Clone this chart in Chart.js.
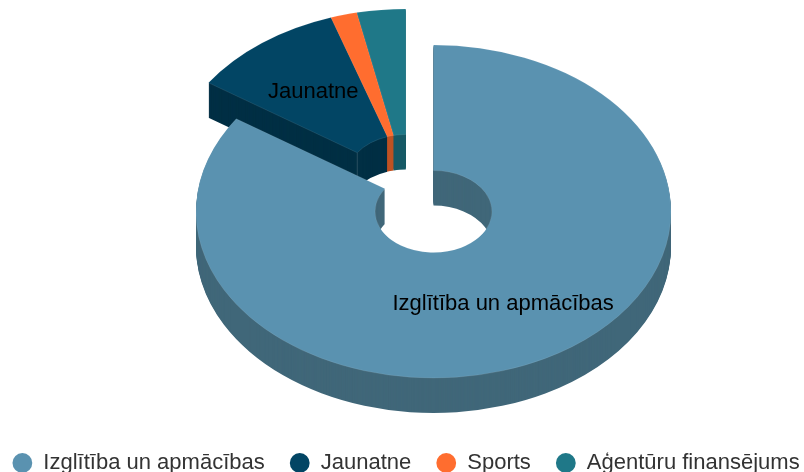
<!DOCTYPE html>
<html>
<head>
<meta charset="utf-8">
<script src="https://cdn.jsdelivr.net/npm/chart.js@4"></script>
<style>
html,body{margin:0;padding:0;background:#fff;overflow:hidden}
#wrap{width:804px;height:472px;overflow:hidden;position:relative}
#c{position:absolute;left:-14px;top:0;display:block}
</style>
</head>
<body>
<div id="wrap"><canvas id="c" width="840" height="484"></canvas></div>
<script>
const categories = ["Izglītība un apmācības", "Jaunatne", "Sports", "Aģentūru finansējums"];
const values = [84.4, 10.5, 1.8, 3.3];
const topColors = ["#5A92B0", "#024564", "#FF6D2F", "#1F7888"];
const sideColors = ["#406779", "#012F44", "#BF5223", "#175A66"];
const labelled = [true, true, false, false];

// Pseudo-3D projection of the doughnut (canvas sits 14px left of the window)
const view = { rx: 237.5, ry: 166.5, depth: 35 };
const centres = [
  { x: 447.5, y: 211.5 },            // main slice
  { x: 419.8, y: 175.5 }             // the three exploded slices, pulled out together
];
const centreOf = i => i === 0 ? centres[0] : centres[1];
const labelNudge = [{ x: 0, y: 1 }, { x: -3, y: -1 }];

function project(ctx, el, c, dy) {
  const k = el.outerRadius;
  ctx.translate(c.x, c.y + dy);
  ctx.scale(view.rx / k, view.ry / k);
  ctx.translate(-el.x, -el.y);
}
function drawArc(ctx, el, c, dy, over) {
  const o = el.options;
  el.options = Object.assign({}, o, over);
  ctx.save();
  project(ctx, el, c, dy);
  el.draw(ctx);
  ctx.restore();
  el.options = o;
}
function drawSeams(ctx, els) {
  // vertical edges where the radial wall of the pulled-out group meets its curved walls
  const el = els[1], c = centreOf(1);
  const k = el.outerRadius;
  ctx.save();
  ctx.strokeStyle = "rgba(255,255,255,0.16)";
  ctx.lineWidth = 1;
  [el.innerRadius, el.outerRadius].forEach(r => {
    const x = c.x + Math.cos(el.startAngle) * r * view.rx / k;
    const y = c.y + Math.sin(el.startAngle) * r * view.ry / k;
    ctx.beginPath();
    ctx.moveTo(x, y);
    ctx.lineTo(x, y + view.depth);
    ctx.stroke();
  });
  ctx.restore();
}
function drawGroup(ctx, els, idx) {
  for (let d = view.depth; d >= 1; d--) {
    idx.forEach(i => drawArc(ctx, els[i], centreOf(i), d, { backgroundColor: sideColors[i] }));
  }
  if (idx.length > 1) drawSeams(ctx, els);
  idx.forEach(i => drawArc(ctx, els[i], centreOf(i), 0, { backgroundColor: topColors[i], borderWidth: 0.7, borderColor: "rgba(255,255,255,0.14)" }));
}

const pie3d = {
  id: "pie3d",
  beforeDatasetsDraw(chart) {
    const ctx = chart.ctx, els = chart.getDatasetMeta(0).data;
    drawGroup(ctx, els, [1, 2, 3]);
    drawGroup(ctx, els, [0]);
    return false;
  },
  afterDraw(chart) {
    const ctx = chart.ctx, els = chart.getDatasetMeta(0).data;
    ctx.save();
    ctx.font = "22px 'Liberation Sans'";
    ctx.fillStyle = "#000";
    ctx.textAlign = "center";
    ctx.textBaseline = "middle";
    els.forEach((el, i) => {
      if (!labelled[i]) return;
      const p = el.getCenterPoint();
      const k = el.outerRadius, c = centreOf(i);
      ctx.fillText(categories[i], c.x + (p.x - el.x) * view.rx / k + labelNudge[i].x, c.y + (p.y - el.y) * view.ry / k + labelNudge[i].y);
    });
    ctx.restore();
  }
};

new Chart(document.getElementById("c"), {
  type: "doughnut",
  data: {
    labels: categories,
    datasets: [{ data: values, backgroundColor: topColors, borderWidth: 0 }]
  },
  options: {
    responsive: false,
    animation: false,
    rotation: 0,
    cutout: "24.6%",
    events: [],
    plugins: {
      tooltip: { enabled: false },
      legend: {
        position: "bottom",
        labels: {
          usePointStyle: true,
          pointStyle: "circle",
          boxHeight: 14,
          boxWidth: 20,
          padding: 25,
          color: "#333",
          font: { family: "'Liberation Sans'", size: 22 }
        }
      }
    }
  },
  plugins: [pie3d]
});
</script>
</body>
</html>
